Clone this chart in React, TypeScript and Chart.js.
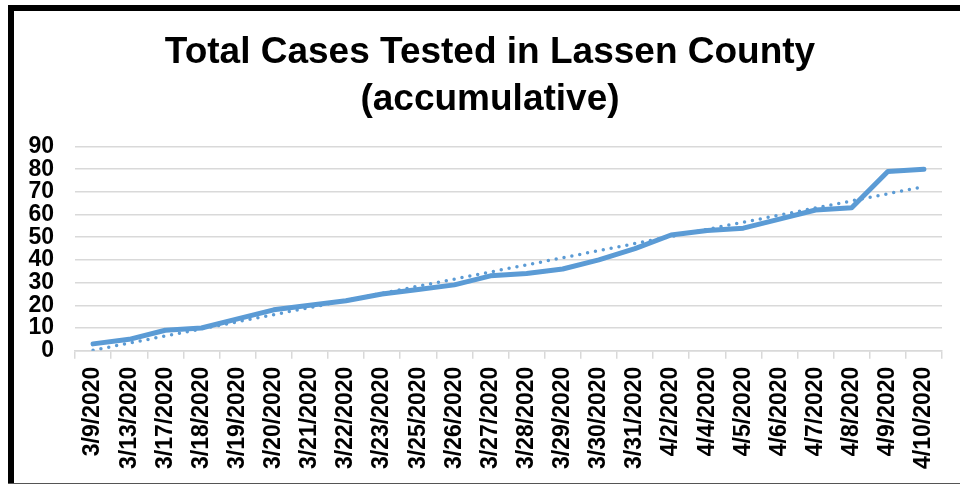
import React, { useEffect, useRef } from "react";
import { Chart, registerables } from "chart.js";

Chart.register(...registerables);

const categories = [
  "3/9/2020", "3/13/2020", "3/17/2020", "3/18/2020", "3/19/2020", "3/20/2020",
  "3/21/2020", "3/22/2020", "3/23/2020", "3/25/2020", "3/26/2020", "3/27/2020",
  "3/28/2020", "3/29/2020", "3/30/2020", "3/31/2020", "4/2/2020", "4/4/2020",
  "4/5/2020", "4/6/2020", "4/7/2020", "4/8/2020", "4/9/2020", "4/10/2020",
];

const totalTested = [3, 5, 9, 10, 14, 18, 20, 22, 25, 27, 29, 33, 34, 36, 40, 45, 51, 53, 54, 58, 62, 63, 79, 80];

// Linear trendline endpoints (first and last category)
const trendStart = 0.2;
const trendEnd = 72.3;

const yTicks = [0, 10, 20, 30, 40, 50, 60, 70, 80, 90];

const titleLines = ["Total Cases Tested in Lassen County", "(accumulative)"];

const FONT = "Arial, 'Liberation Sans', Helvetica, sans-serif";
const BLUE = "#5b9bd5";
const GRID = "#d9d9d9";

export default function App() {
  const ref = useRef<HTMLCanvasElement | null>(null);

  useEffect(() => {
    document.body.style.margin = "0";
    if (!ref.current) return;
    const trendData = categories.map((_, i) =>
      i === 0 ? trendStart : i === categories.length - 1 ? trendEnd : null
    );
    const chart = new Chart(ref.current, {
      type: "line",
      data: {
        labels: categories,
        datasets: [
          {
            label: "Trend",
            data: trendData,
            borderColor: BLUE,
            borderWidth: 3.5,
            borderDash: [0, 8],
            borderCapStyle: "round",
            pointRadius: 0,
            spanGaps: true,
            fill: false,
          },
          {
            label: "Total Cases Tested",
            data: totalTested,
            borderColor: BLUE,
            borderWidth: 5,
            borderCapStyle: "round",
            borderJoinStyle: "round",
            pointRadius: 0,
            tension: 0,
            fill: false,
          },
        ],
      },
      options: {
        animation: false,
        responsive: false,
        maintainAspectRatio: false,
        layout: { padding: { left: 38, right: 18, top: 0, bottom: 9 } },
        plugins: {
          legend: { display: false },
          tooltip: { enabled: false },
          title: {
            display: true,
            text: titleLines,
            color: "#000",
            font: { family: FONT, size: 37, weight: "bold", lineHeight: 1.25 },
            padding: { top: 30, bottom: 24 },
          },
        },
        scales: {
          x: {
            offset: true,
            grid: {
              offset: true,
              drawOnChartArea: false,
              color: GRID,
              lineWidth: 1.5,
              tickLength: 8,
            },
            border: { display: true, color: GRID, width: 1.5 },
            ticks: {
              autoSkip: false,
              maxRotation: 90,
              minRotation: 90,
              color: "#000",
              padding: 8,
              font: { family: FONT, size: 23, weight: "bold" },
            },
          },
          y: {
            min: 0,
            max: 90,
            afterBuildTicks: (axis: any) => {
              axis.ticks = yTicks.map((v) => ({ value: v }));
            },
            afterFit: (axis: any) => {
              axis.width = 37;
              // let the tick labels extend to the left of the narrowed axis box
              axis._computeLabelArea = () => undefined;
            },
            grid: { color: GRID, lineWidth: 1.5, drawTicks: false },
            border: { display: false },
            ticks: {
              autoSkip: false,
              color: "#000",
              padding: 21,
              font: { family: FONT, size: 23, weight: "bold" },
            },
          },
        },
      },
    });
    return () => chart.destroy();
  }, []);

  return (
    <div style={{ position: "fixed", left: 0, top: 0, width: 960, height: 486, background: "#fff" }}>
      <canvas ref={ref} width={960} height={486} style={{ position: "absolute", left: 0, top: 0 }} />
      <div style={{ position: "absolute", left: 8, top: 5, width: 6, height: 479, background: "#000" }} />
      <div style={{ position: "absolute", left: 8, top: 5, width: 952, height: 6, background: "#000" }} />
      <div style={{ position: "absolute", left: 8, top: 483, width: 952, height: 1, background: "#555" }} />
    </div>
  );
}
